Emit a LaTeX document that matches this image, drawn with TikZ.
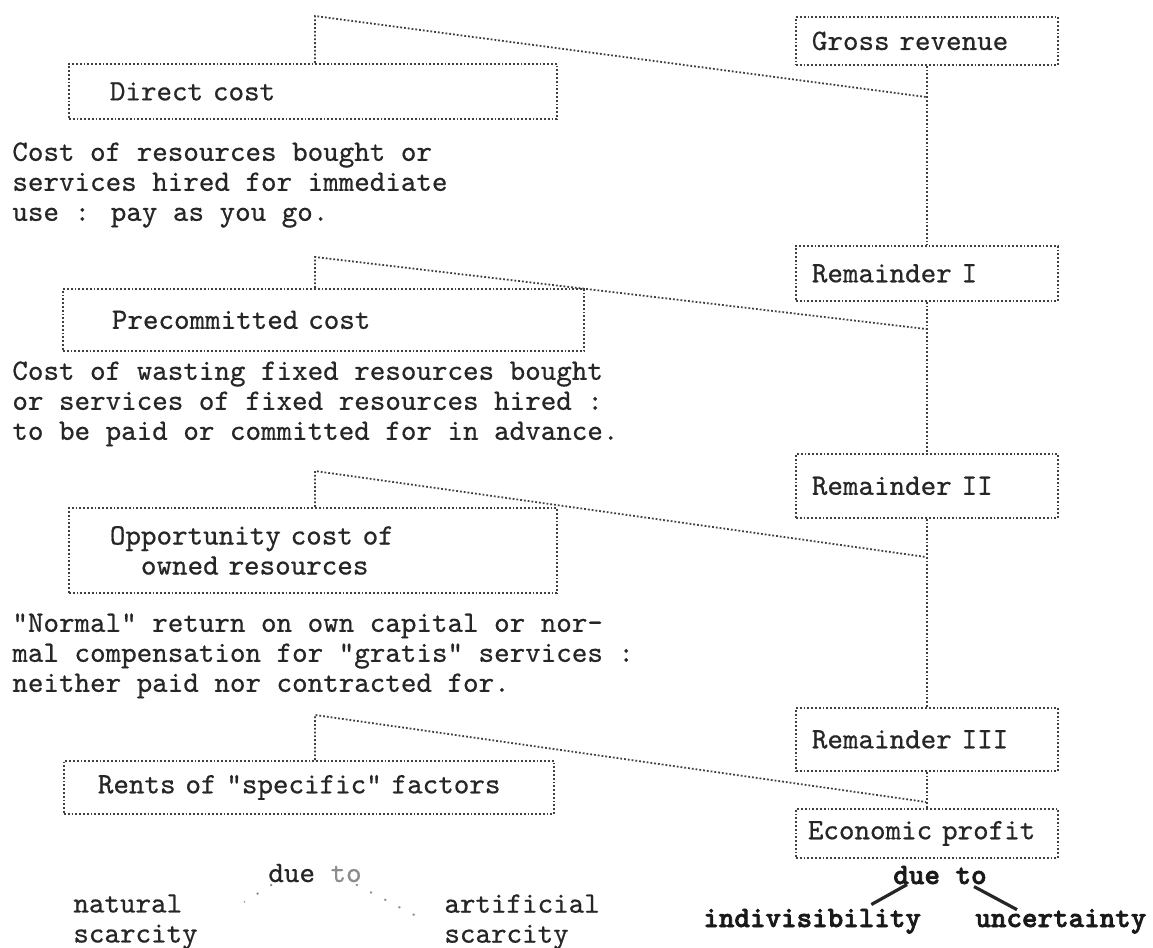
\documentclass[tikz,border=0pt]{standalone}
\usepackage{fontspec}
\usetikzlibrary{calc}
\newfontfamily\typefont[FakeBold=0.6]{lmmono10-regular.otf}
\newfontfamily\typeboldfont[FakeBold=2.2]{lmmonolt10-bold.otf}
\newcommand\typew{\fontsize{14.8}{15}\selectfont\typefont}
\newcommand\typeb{\fontsize{14.8}{15}\selectfont\typeboldfont}
\tikzset{
  dots/.style={densely dotted, line width=.9pt, draw=black!75},
  box/.style={dots, align=left, inner ysep=0pt, font=\typew, text=black!85, anchor=north west},
  lbox/.style={box, inner xsep=20.5pt, text width=203pt},
  rbox/.style={box, inner xsep=8pt, text width=115pt},
  note/.style={align=left, inner sep=0pt, font=\typew, text=black!85, anchor=north west},
  faint/.style={draw=black!45, line width=.9pt, dash pattern=on 1pt off 7pt},
  stroke/.style={draw=black!85, line width=1.6pt},
}
\begin{document}
\begin{tikzpicture}[x=.5pt,y=-.5pt]
  \useasboundingbox (0,0) rectangle (1153,948);
  % right column: what is left over
  \node[rbox, minimum height=24pt] (gross) at (795,16) {Gross revenue};
  \node[rbox, minimum height=27.5pt] (remI) at (795,245) {Remainder I};
  \node[rbox, minimum height=32pt] (remII) at (795,453) {Remainder II};
  \node[rbox, minimum height=31.5pt] (remIII) at (795,707) {Remainder III};
  \node[rbox, minimum height=24.5pt, inner xsep=6pt, text width=119pt] (profit) at (795,808) {Economic profit};
  % left column: the costs taken off
  \node[lbox, minimum height=27.5pt] (direct) at (68,63) {Direct cost};
  \node[note] (directnote) at (12,142) {Cost of resources bought or\\services hired for immediate\\use : pay as you go.};
  \node[lbox, inner xsep=24.5pt, text width=211.5pt, minimum height=31pt] (precom) at (62,288) {Precommitted cost};
  \node[note] (precomnote) at (12,361) {Cost of wasting fixed resources bought\\or services of fixed resources hired :\\to be paid or committed for in advance.};
  \node[lbox, minimum height=42.5pt] (oppcost) at (68,507) {Opportunity cost of\\\hphantom{xx}owned resources};
  \node[note] (oppnote) at (12,613) {"Normal" return on own capital or nor-\\mal compensation for "gratis" services :\\neither paid nor contracted for.};
  \node[lbox, inner xsep=17pt, text width=211pt, minimum height=26.5pt] (rents) at (63,760) {Rents of "specific" factors};
  % branch points
  \coordinate (tI) at (315,16);   \coordinate (jI) at (926,97);
  \coordinate (tII) at (315,257); \coordinate (jII) at (926,329);
  \coordinate (tIII) at (315,471); \coordinate (jIII) at (926,557);
  \coordinate (tIV) at (315,715); \coordinate (jIV) at (926,802);
  \draw[dots] (gross) -- (remI);
  \draw[dots] (remI) -- (remII);
  \draw[dots] (remII) -- (remIII);
  \draw[dots] (remIII) -- (profit);
  \foreach \b/\t/\j in {direct/tI/jI, precom/tII/jII, oppcost/tIII/jIII, rents/tIV/jIV}
    \draw[dots] (\b.north -| \t) -- (\t) -- (\j);
  % sources of rents
  \node[font=\typew, text=black!85, anchor=base west, inner sep=0pt] (dueL) at (268,882) {due \textcolor{black!45}{to}};
  \node[note] (natural) at (73,894) {natural\\scarcity};
  \node[note] (artificial) at (444,894) {artificial\\scarcity};
  \draw[faint] ($(dueL.south west)+(4,2)$) -- ($(natural.north east)+(46,8)$);
  \draw[faint] ($(dueL.south east)+(-6,2)$) -- ($(artificial.north west)+(-24,24)$);
  % sources of profit
  \node[font=\typeb, text=black!90, anchor=base west, inner sep=0pt] (dueR) at (893,884) {due to};
  \node[font=\typeb, text=black!90, anchor=base west, inner sep=0pt] (indiv) at (703,927) {indivisibility};
  \node[font=\typeb, text=black!90, anchor=base west, inner sep=0pt] (uncert) at (975,927) {uncertainty};
  \draw[stroke] ($(dueR.south west)+(14,0)$) -- ($(indiv.north east)+(-50,-4)$);
  \draw[stroke] ($(dueR.south east)+(-13,2)$) -- ($(uncert.north west)+(42,1)$);
\end{tikzpicture}
\end{document}
